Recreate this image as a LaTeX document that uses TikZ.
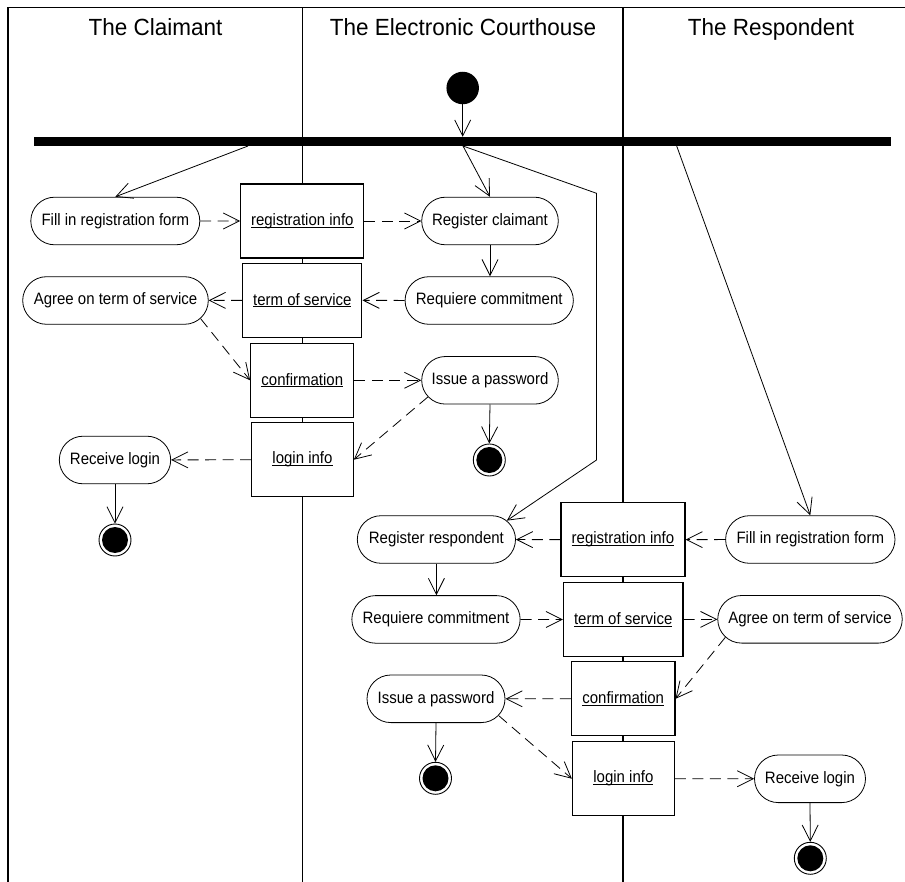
\documentclass[tikz,border=0pt]{standalone}
\usepackage{graphicx}
\usepackage{fontspec}
\setmainfont{Liberation Sans}
\usetikzlibrary{arrows.meta,shapes.misc}
% slightly tall lettering used for all labels
\newcommand\lbl[1]{\scalebox{1}[1.1]{#1}}
% underlined object name with the rule just under the baseline
\newcommand\objname[1]{\scalebox{1}[1.1]{\setbox0\hbox{#1}\rlap{\rule[-2.1pt]{\wd0}{0.85pt}}\box0}}
\begin{document}
\begin{tikzpicture}[x=1pt,y=-1pt,
  every node/.style={font=\fontsize{15}{18}\selectfont},
  lanetitle/.style={font=\fontsize{22.5}{26}\selectfont, anchor=base},
  action/.style={draw, rounded rectangle, inner sep=0pt, minimum height=47.6pt, line width=0.8pt, fill=white},
  object/.style={draw, rectangle, inner sep=0pt, minimum height=74pt, line width=1.05pt, fill=white},
  startnode/.style={circle, fill=black, inner sep=0pt, minimum size=32.5pt},
  endnode/.style={circle, draw, line width=0.9pt, inner sep=0pt, minimum size=32pt, fill=white,
    path picture={\fill[black] (path picture bounding box.center) circle (13pt);}},
  flow/.style={-{Straight Barb[length=16pt,width=16pt]}, line width=0.8pt},
  dep/.style={flow, dash pattern=on 11pt off 6.5pt},
  lane/.style={line width=1.4pt}]
\useasboundingbox (0,0) rectangle (905,882);

% frame and swimlanes
\draw[lane] (905,7.5) -- (8,7.5) -- (8,882);
\draw[lane] (302.3,7.5) -- (302.3,882);
\draw[lane] (623,7.5) -- (623,882);
\node[lanetitle] (t1) at (155.5,36) {\scalebox{1}[1.04]{The Claimant}};
\node[lanetitle] (t2) at (463,36) {\scalebox{1}[1.04]{The Electronic Courthouse}};
\node[lanetitle] (t3) at (771,36) {\scalebox{1}[1.04]{The Respondent}};

% start and fork bar
\node[startnode] (start) at (462.7,88) {};
\node[fill=black, inner sep=0pt, minimum width=857pt, minimum height=9pt] (bar) at (462.5,141.5) {};
\coordinate (b1) at (248,146);
\coordinate (b2) at (463,146);
\coordinate (b3) at (676.7,146);
\coordinate (k1) at (596.5,193.3);
\coordinate (k2) at (596.5,460);

% claimant registration
\node[action, minimum width=169pt] (fillC) at (115.3,221) {\lbl{Fill in registration form}};
\node[object, minimum width=123.3pt] (regInfoC) at (302.3,221) {\objname{registration info}};
\node[action, minimum width=136.6pt] (regCl) at (490,221) {\lbl{Register claimant}};
\node[action, minimum width=185.6pt] (agreeC) at (115.5,300.5) {\lbl{Agree on term of service}};
\node[object, minimum width=119.3pt] (tosC) at (302.3,300.3) {\objname{term of service}};
\node[action, minimum width=168.3pt] (reqC) at (489.2,300.5) {\lbl{Requiere commitment}};
\node[object, minimum width=103.3pt] (confC) at (302.3,380.3) {\objname{confirmation}};
\node[action, minimum width=136.6pt] (issueC) at (490,380.3) {\lbl{Issue a password}};
\node[action, minimum width=111.4pt] (recvC) at (115,460) {\lbl{Receive login}};
\node[object, minimum width=101.6pt] (loginC) at (302.5,459.7) {\objname{login info}};
\node[endnode] (endC1) at (489.3,460) {};
\node[endnode] (endC2) at (115,540) {};

% respondent registration
\node[action, minimum width=158.2pt] (regResp) at (436.4,539.5) {\lbl{Register respondent}};
\node[object, minimum width=124pt] (regInfoR) at (623,539.7) {\objname{registration info}};
\node[action, minimum width=169.4pt] (fillR) at (810.3,539.5) {\lbl{Fill in registration form}};
\node[action, minimum width=168.3pt] (reqR) at (436,619.4) {\lbl{Requiere commitment}};
\node[object, minimum width=119.6pt] (tosR) at (623.2,619.5) {\objname{term of service}};
\node[action, minimum width=184.5pt] (agreeR) at (810,619.3) {\lbl{Agree on term of service}};
\node[action, minimum width=138pt] (issueR) at (436,698.8) {\lbl{Issue a password}};
\node[object, minimum width=103.6pt] (confR) at (623.2,698.8) {\objname{confirmation}};
\node[object, minimum width=102pt] (loginR) at (623.4,778.7) {\objname{login info}};
\node[action, minimum width=111pt] (recvR) at (810,778.8) {\lbl{Receive login}};
\node[endnode] (endR1) at (435.5,778.3) {};
\node[endnode] (endR2) at (810.3,858.3) {};

% control flow
\draw[flow] (start.south) -- (start.south |- bar.north);
\draw[flow] (b1) -- (fillC.north);
\draw[flow] (b2) -- (regCl.north);
\draw[flow] (b2) -- (k1) -- (k2) -- (regResp.15);
\draw[flow] (b3) -- (fillR.north);

\draw[flow] (regCl.south) -- (regCl.south |- reqC.north);
\draw[flow] (issueC.south) -- (endC1.north);
\draw[flow] (recvC.south) -- (endC2.north);
\draw[flow] (regResp.south) -- (regResp.south |- reqR.north);
\draw[flow] (issueR.south) -- (endR1.north);
\draw[flow] (recvR.south) -- (endR2.north);

% object flow, claimant side
\draw[dep] (fillC) -- (regInfoC);
\draw[dep] (regInfoC) -- (regCl);
\draw[dep] (reqC) -- (tosC);
\draw[dep] (tosC) -- (agreeC);
\draw[dep] (agreeC.-12) -- (confC.west);
\draw[dep] (confC) -- (issueC);
\draw[dep] (issueC.195) -- (loginC.east);
\draw[dep] (loginC) -- (recvC);

% object flow, respondent side
\draw[dep] (fillR) -- (regInfoR);
\draw[dep] (regInfoR) -- (regResp);
\draw[dep] (reqR) -- (tosR);
\draw[dep] (tosR) -- (agreeR);
\draw[dep] (agreeR.192) -- (confR.east);
\draw[dep] (confR) -- (issueR);
\draw[dep] (issueR.-15) -- (loginR.west);
\draw[dep] (loginR) -- (recvR);
\end{tikzpicture}
\end{document}
